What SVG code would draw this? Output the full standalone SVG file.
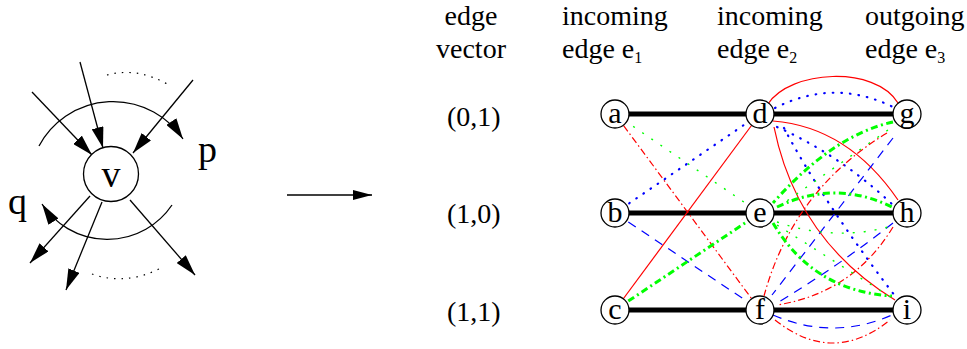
<svg xmlns="http://www.w3.org/2000/svg" width="967" height="349" viewBox="0 0 967 349">
<defs>
<marker id="ah" markerUnits="userSpaceOnUse" markerWidth="22" markerHeight="12" refX="21" refY="6" orient="auto"><path d="M0,0 L21,6 L0,12 z" fill="#000"/></marker>
<marker id="ah2" markerUnits="userSpaceOnUse" markerWidth="20" markerHeight="10" refX="19" refY="5" orient="auto"><path d="M0,0 L19,5 L0,10 z" fill="#000"/></marker>
</defs>
<style>
text{font-family:"Liberation Serif","Times New Roman",serif;fill:#000}
.hd{font-size:28px}
.sub{font-size:16px}
.nl{font-size:30px;text-anchor:middle}
.big{font-size:38px}
.nd{fill:#fff;stroke:#000;stroke-width:1.3}
.ar{fill:none;stroke:#000;stroke-width:1.3;marker-end:url(#ah)}
.ar2{fill:none;stroke:#000;stroke-width:1.5;marker-end:url(#ah2)}
.dt{fill:none;stroke:#000;stroke-width:1.2;stroke-dasharray:1.5 6}
.k{stroke:#000;stroke-width:5;fill:none}
.rs{stroke:#f00;stroke-width:1.2;fill:none}
.rd{stroke:#f00;stroke-width:1.2;fill:none;stroke-dasharray:7 3 1.5 3}
.bo{stroke:#00f;stroke-width:2.2;fill:none;stroke-dasharray:0.6 8;stroke-linecap:round}
.bh{stroke:#00f;stroke-width:1.2;fill:none;stroke-dasharray:9 7}
.go{stroke:#0f0;stroke-width:1.4;fill:none;stroke-dasharray:2 9}
.gt{stroke:#0f0;stroke-width:3;fill:none;stroke-dasharray:7 3.5 2 3.5}
</style>
<rect width="967" height="349" fill="#fff"/>

<g id="labels">
<text class="hd" x="471" y="25" text-anchor="middle">edge</text>
<text class="hd" x="471" y="58" text-anchor="middle">vector</text>
<text class="hd" x="562" y="25">incoming</text>
<text class="hd" x="562" y="58">edge e<tspan class="sub" dy="5">1</tspan></text>
<text class="hd" x="717" y="25">incoming</text>
<text class="hd" x="717" y="58">edge e<tspan class="sub" dy="5">2</tspan></text>
<text class="hd" x="865" y="25">outgoing</text>
<text class="hd" x="865" y="58">edge e<tspan class="sub" dy="5">3</tspan></text>
<text class="hd" x="447" y="126">(0,1)</text>
<text class="hd" x="447" y="223">(1,0)</text>
<text class="hd" x="447" y="321">(1,1)</text>
<text class="big" x="198" y="162">p</text>
<text class="big" x="8" y="214">q</text>
</g>

<g id="connectors">
<!-- left figure -->
<path class="ar" d="M32,92 L92,155"/>
<path class="ar" d="M80,62 L103,148"/>
<path class="ar" d="M193,80 L133,153"/>
<path class="ar" d="M90,196 L30,263"/>
<path class="ar" d="M102,202 L66,290"/>
<path class="ar" d="M130,200 L195,275"/>
<path class="ar" d="M39,146 A84,84 0 0,1 183,139"/>
<path class="ar" d="M172,205 A78,78 0 0,1 42,204"/>
<path class="dt" d="M107,75 Q137,67 167,84"/>
<path class="dt" d="M92,274 Q126,286 161,268"/>
<path class="ar2" d="M287,195 L372,195"/>
<!-- thick edges -->
<path class="k" d="M615,114 L907,114"/>
<path class="k" d="M615,213 L907,213"/>
<path class="k" d="M615,310 L907,310"/>
<!-- col1-col2 -->
<path class="go" d="M615,114 L760,213"/>
<path class="rd" d="M615,114 L760,310"/>
<path class="bo" d="M615,213 L760,114"/>
<path class="bh" d="M615,213 L760,310"/>
<path class="rs" d="M615,310 L760,114"/>
<path class="gt" d="M615,310 L760,213"/>
<!-- col2-col3 -->
<path class="rs" d="M768,104 C790,70 875,65 898,103"/>
<path class="bo" d="M775,108 Q834,78 893,107"/>
<path class="rs" d="M773,121 Q848,127 898,200"/>
<path class="rs" d="M774,127 Q797,240 895,300"/>
<path class="bo" d="M777,127 Q840,155 893,205"/>
<path class="bo" d="M784,128 Q822,200 895,296"/>
<path class="gt" d="M893,122 Q833,135 773,203"/>
<path class="go" d="M888,130 L784,203"/>
<path class="rd" d="M887,133 Q793,190 764,296"/>
<path class="bh" d="M893,138 L772,295"/>
<path class="rd" d="M893,227 Q853,293 777,305"/>
<path class="bh" d="M893,223 Q840,265 777,303"/>
<path class="gt" d="M777,207 Q835,179 892,207"/>
<path class="go" d="M777,222 Q835,242 892,226"/>
<path class="go" d="M777,225 L892,298"/>
<path class="gt" d="M773,223 Q813,291 892,296"/>
<path class="bh" d="M773,315 Q833,341 892,315"/>
<path class="rd" d="M775,320 Q833,366 890,320"/>
</g>

<g id="node-v"><circle class="nd" cx="111" cy="174" r="27.5"/><text class="big" x="111" y="187" text-anchor="middle">v</text></g>
<g id="node-a"><circle class="nd" cx="615" cy="114" r="14"/><text class="nl" x="615" y="122.5">a</text></g>
<g id="node-b"><circle class="nd" cx="615" cy="213" r="14"/><text class="nl" x="615" y="221.5">b</text></g>
<g id="node-c"><circle class="nd" cx="615" cy="310" r="14"/><text class="nl" x="615" y="318.5">c</text></g>
<g id="node-d"><circle class="nd" cx="760" cy="114" r="14"/><text class="nl" x="760" y="122.5">d</text></g>
<g id="node-e"><circle class="nd" cx="760" cy="213" r="14"/><text class="nl" x="760" y="221.5">e</text></g>
<g id="node-f"><circle class="nd" cx="760" cy="310" r="14"/><text class="nl" x="760" y="318.5">f</text></g>
<g id="node-g"><circle class="nd" cx="907" cy="114" r="14"/><text class="nl" x="907" y="122.5">g</text></g>
<g id="node-h"><circle class="nd" cx="907" cy="213" r="14"/><text class="nl" x="907" y="221.5">h</text></g>
<g id="node-i"><circle class="nd" cx="907" cy="310" r="14"/><text class="nl" x="907" y="318.5">i</text></g>
</svg>
